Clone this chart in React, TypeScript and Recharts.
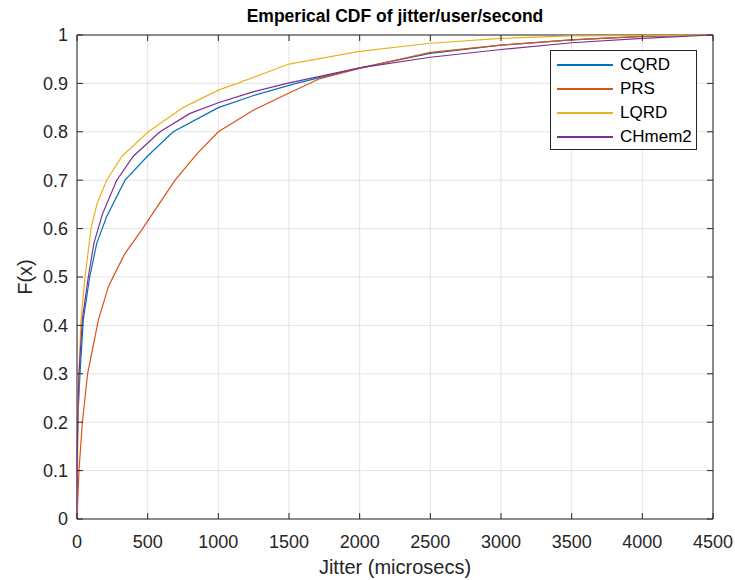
import React from "react";
import { LineChart, Line, XAxis, YAxis, CartesianGrid, ReferenceArea } from "recharts";

// jitter (microsecs) / F(x) pairs
const cqrdX = [0, 3, 8, 21, 45, 90, 140, 210, 340, 500, 681, 1000, 1250, 1550, 2000, 2500, 3000, 3500, 4000, 4500];
const cqrdY = [0, 0.15, 0.22, 0.3, 0.413, 0.5, 0.57, 0.625, 0.7, 0.75, 0.8, 0.85, 0.875, 0.9, 0.932, 0.962, 0.979, 0.99, 0.997, 1];

const prsX = [0, 14, 38, 75, 151, 222, 269, 340, 457, 505, 694, 850, 1000, 1250, 1500, 1720, 2000, 2500, 3000, 3500, 4000, 4500];
const prsY = [0, 0.1, 0.2, 0.3, 0.411, 0.48, 0.508, 0.549, 0.597, 0.618, 0.7, 0.755, 0.8, 0.845, 0.88, 0.91, 0.931, 0.964, 0.979, 0.99, 0.997, 1];

const lqrdX = [0, 4, 8, 14, 28, 57, 99, 140, 210, 320, 505, 750, 1000, 1134, 1500, 2000, 2500, 3000, 3500, 4000, 4500];
const lqrdY = [0, 0.12, 0.2, 0.3, 0.41, 0.5, 0.6, 0.65, 0.7, 0.75, 0.8, 0.85, 0.886, 0.9, 0.94, 0.966, 0.983, 0.993, 0.998, 0.999, 1];

const chmemX = [0, 3, 8, 14, 38, 80, 120, 180, 281, 400, 587, 800, 1000, 1250, 1485, 2000, 2500, 3000, 3500, 4000, 4500];
const chmemY = [0, 0.17, 0.24, 0.3, 0.413, 0.5, 0.57, 0.63, 0.7, 0.75, 0.8, 0.838, 0.86, 0.883, 0.9, 0.932, 0.954, 0.97, 0.984, 0.993, 1];

const xTicks = [0, 500, 1000, 1500, 2000, 2500, 3000, 3500, 4000, 4500];
const yTicks = [0, 0.1, 0.2, 0.3, 0.4, 0.5, 0.6, 0.7, 0.8, 0.9, 1];

const zip = (xs: number[], ys: number[]) => xs.map((x, i) => ({ x, y: ys[i] }));

const SERIES = [
  { name: "CQRD", color: "#0072BD", data: zip(cqrdX, cqrdY) },
  { name: "PRS", color: "#D95319", data: zip(prsX, prsY) },
  { name: "LQRD", color: "#EDB120", data: zip(lqrdX, lqrdY) },
  { name: "CHmem2", color: "#7E2F8E", data: zip(chmemX, chmemY) },
];

const W = 735;
const H = 580;
const MARGIN = { top: 35, right: 22, left: 0, bottom: 0 };
const Y_AXIS_W = 77;
const X_AXIS_H = 61;
const PLOT_W = W - MARGIN.right - Y_AXIS_W;
const PLOT_H = H - MARGIN.top - X_AXIS_H;
const AXIS = "#262626";
const TICK_LEN = 6;
const X_TICK_MARGIN = 16;
const Y_TICK_MARGIN = 9;
const FONT = "'Liberation Sans', Arial, sans-serif";

// ticks point inward (matlab style), on both the labelled and opposite side
function XTick({ x, y, payload }: any) {
  const axisY = y - X_TICK_MARGIN;
  return (
    <g>
      <line x1={x} x2={x} y1={axisY} y2={axisY - TICK_LEN} stroke={AXIS} />
      <line x1={x} x2={x} y1={axisY - PLOT_H} y2={axisY - PLOT_H + TICK_LEN} stroke={AXIS} />
      <text x={x} y={y} dy="0.72em" textAnchor="middle" fill={AXIS} fontSize={18}>
        {payload.value}
      </text>
    </g>
  );
}

function YTick({ x, y, payload }: any) {
  const axisX = x + Y_TICK_MARGIN;
  return (
    <g>
      <line x1={axisX} x2={axisX + TICK_LEN} y1={y} y2={y} stroke={AXIS} />
      <line x1={axisX + PLOT_W} x2={axisX + PLOT_W - TICK_LEN} y1={y} y2={y} stroke={AXIS} />
      <text x={x} y={y} dy="0.36em" textAnchor="end" fill={AXIS} fontSize={18}>
        {payload.value}
      </text>
    </g>
  );
}

function LegendBox() {
  return (
    <div
      style={{
        position: "absolute",
        left: 550,
        top: 50,
        width: 147,
        height: 100,
        boxSizing: "border-box",
        border: `1px solid ${AXIS}`,
        background: "#fff",
        padding: "2px 0 0 6px",
      }}
    >
      {SERIES.map((s) => (
        <div key={s.name} style={{ display: "flex", alignItems: "center", height: 24 }}>
          <div style={{ width: 56, height: 2, background: s.color, marginRight: 7, flexShrink: 0 }} />
          <span style={{ fontSize: 17, color: "#000", lineHeight: "24px" }}>{s.name}</span>
        </div>
      ))}
    </div>
  );
}

export default function App() {
  return (
    <div style={{ position: "absolute", left: 0, top: 0, width: W, height: H, background: "#fff", fontFamily: FONT }}>
      <LineChart width={W} height={H} margin={MARGIN}>
        <CartesianGrid stroke="#e3e3e3" />
        <XAxis
          dataKey="x"
          type="number"
          domain={[0, 4500]}
          ticks={xTicks}
          height={X_AXIS_H}
          axisLine={false}
          tickLine={false}
          tickSize={0}
          tickMargin={X_TICK_MARGIN}
          tick={<XTick />}
          interval={0}
        />
        <YAxis
          type="number"
          domain={[0, 1]}
          ticks={yTicks}
          width={Y_AXIS_W}
          axisLine={false}
          tickLine={false}
          tickSize={0}
          tickMargin={Y_TICK_MARGIN}
          tick={<YTick />}
          interval={0}
        />
        <ReferenceArea x1={0} x2={4500} y1={0} y2={1} fill="none" stroke={AXIS} strokeWidth={1} />
        {SERIES.map((s) => (
          <Line
            key={s.name}
            data={s.data}
            dataKey="y"
            name={s.name}
            type="linear"
            stroke={s.color}
            strokeWidth={1.2}
            dot={false}
            activeDot={false}
            isAnimationActive={false}
          />
        ))}
      </LineChart>
      <div
        style={{
          position: "absolute",
          left: Y_AXIS_W,
          width: PLOT_W,
          top: 6,
          textAlign: "center",
          fontWeight: "bold",
          fontSize: 17.5,
          color: "#000",
        }}
      >
        Emperical CDF of jitter/user/second
      </div>
      <div
        style={{
          position: "absolute",
          left: Y_AXIS_W,
          width: PLOT_W,
          top: 556,
          textAlign: "center",
          fontSize: 20,
          color: AXIS,
        }}
      >
        Jitter (microsecs)
      </div>
      <div
        style={{
          position: "absolute",
          left: 25,
          top: MARGIN.top + PLOT_H / 2,
          transform: "translate(-50%, -50%) rotate(-90deg)",
          fontSize: 20,
          color: AXIS,
          whiteSpace: "nowrap",
        }}
      >
        F(x)
      </div>
      <LegendBox />
    </div>
  );
}
